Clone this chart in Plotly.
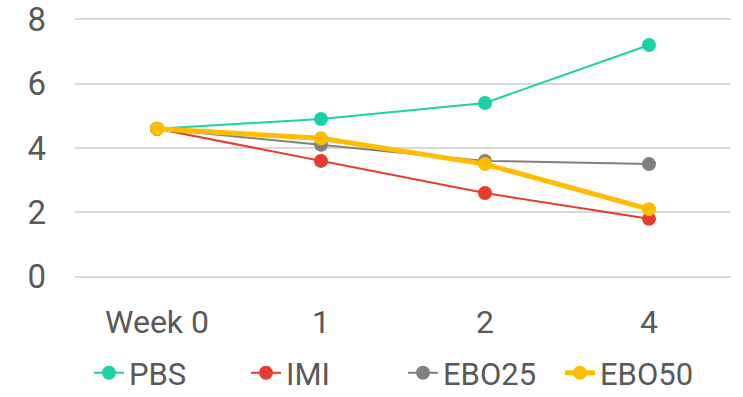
import plotly.graph_objects as go

weeks = ["Week 0", "1", "2", "4"]
pbs = [4.6, 4.9, 5.4, 7.2]
imi = [4.6, 3.6, 2.6, 1.8]
ebo25 = [4.6, 4.1, 3.6, 3.5]
ebo50 = [4.6, 4.3, 3.5, 2.1]

series = [
    ("PBS", pbs, "#1DD1A6", 2),
    ("IMI", imi, "#E43D30", 2),
    ("EBO25", ebo25, "#808080", 2),
    ("EBO50", ebo50, "#FFBC00", 5),
]

fig = go.Figure()
for name, vals, color, lw in series:
    fig.add_trace(go.Scatter(
        x=weeks, y=vals, name=name, mode="lines+markers",
        line=dict(color=color, width=lw),
        marker=dict(color=color, size=14),
    ))

font_color = "#595959"
fig.update_layout(
    width=743, height=397,
    margin=dict(l=75, r=12, t=16, b=117, autoexpand=False),
    paper_bgcolor="white", plot_bgcolor="white",
    font=dict(family="Roboto", size=31, color=font_color),
    showlegend=True,
    legend=dict(orientation="h", x=0.5, xanchor="center", y=-0.455, yanchor="bottom",
                font=dict(size=31, color=font_color),
                entrywidth=112, entrywidthmode="pixels",
                tracegroupgap=0),
    xaxis=dict(type="category", range=[-0.5, 3.5], showgrid=False, zeroline=False,
               showline=False, ticks="", ticklabelstandoff=20, automargin=False,
               ticklabeloverflow="allow",
               tickfont=dict(size=32, color=font_color)),
    yaxis=dict(range=[-0.1, 8.1], tickvals=[0, 2, 4, 6, 8], showgrid=True,
               gridcolor="#D9D9D9", gridwidth=1.5, zeroline=False, showline=False,
               ticks="", ticklabelstandoff=28, automargin=False,
               ticklabeloverflow="allow",
               tickfont=dict(size=33, color=font_color)),
)

fig.write_html("out.html", config={"displayModeBar": False},
               post_script="document.body.style.margin='0';")
